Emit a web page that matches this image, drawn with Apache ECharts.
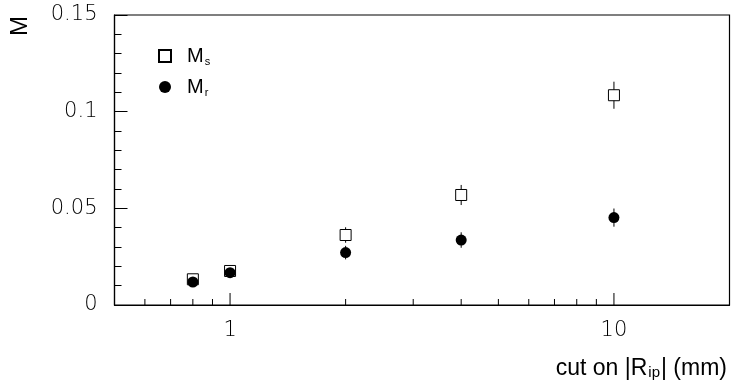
<!DOCTYPE html>
<html>
<head>
<meta charset="utf-8">
<script src="https://cdn.jsdelivr.net/npm/echarts@6/dist/echarts.min.js"></script>
<style>
  html, body { margin: 0; padding: 0; background: #ffffff; }
  #chart { width: 731px; height: 389px; }
</style>
</head>
<body>
<div id="chart"></div>
<script>
// Cut values on |R_ip| in mm
const cuts = [0.8, 1, 2, 4, 10];
// M_s (open squares) with symmetric errors
const msValues = [0.0133, 0.0176, 0.0362, 0.0569, 0.1085];
const msErrors = [0.0012, 0.0016, 0.0040, 0.0052, 0.0070];
// M_r (filled circles) with symmetric errors
const mrValues = [0.0119, 0.0167, 0.0271, 0.0336, 0.0452];
const mrErrors = [0.0010, 0.0014, 0.0035, 0.0040, 0.0047];
// Log-axis tick positions
const xMajorTicks = [1, 10];
const xMinorTicks = [0.6, 0.7, 0.8, 0.9, 2, 3, 4, 5, 6, 7, 8, 9];
const xLabels = ['1', '10'];
// Y axis range and step
const yMin = 0, yMax = 0.15, yStep = 0.05;

const tickFont = { fontFamily: 'DejaVu Sans', fontWeight: 200, fontSize: 21, color: '#000' };

const chart = echarts.init(document.getElementById('chart'), null, { renderer: 'canvas' });

function errorBars(values, errors) {
  return cuts.map((c, i) => [c, values[i], errors[i]]);
}

const errRender = (params, api) => {
  const x = api.value(0), y = api.value(1), e = api.value(2);
  const lo = api.coord([x, y - e]);
  const hi = api.coord([x, y + e]);
  return {
    type: 'line',
    shape: { x1: lo[0], y1: lo[1], x2: hi[0], y2: hi[1] },
    style: { stroke: '#000', lineWidth: 1 }
  };
};

const tickRender = (params, api) => {
  const x = api.value(0), major = api.value(1);
  const p = api.coord([x, yMin]);
  const len = major ? 12 : 6;
  return {
    type: 'line',
    shape: { x1: p[0], y1: p[1], x2: p[0], y2: p[1] - len },
    style: { stroke: '#000', lineWidth: 1 }
  };
};

chart.setOption({
  animation: false,
  backgroundColor: '#ffffff',
  grid: {
    left: 114.5, right: 1.5, top: 15, bottom: 84,
    show: true, borderColor: '#000', borderWidth: 1.2, backgroundColor: 'transparent'
  },
  xAxis: {
    type: 'log', logBase: 10, min: 0.5, max: 20,
    axisLine: { show: true, lineStyle: { color: '#000', width: 1.2 } },
    axisTick: { show: false },
    splitLine: { show: false },
    minorSplitLine: { show: false },
    axisLabel: Object.assign({
      margin: 15,
      showMinLabel: false, showMaxLabel: false,
      formatter: v => {
        const i = xMajorTicks.findIndex(t => Math.abs(t - v) < 1e-6 * t);
        return i >= 0 ? xLabels[i] : '';
      }
    }, tickFont)
  },
  yAxis: {
    type: 'value', min: yMin, max: yMax, interval: yStep,
    axisLine: { show: true, lineStyle: { color: '#000', width: 1.2 } },
    axisTick: { show: true, inside: true, length: 13, lineStyle: { color: '#000', width: 1 } },
    minorTick: { show: true, splitNumber: 5, length: 7, lineStyle: { color: '#000', width: 1 } },
    splitLine: { show: false },
    axisLabel: Object.assign({ margin: 17 }, tickFont)
  },
  legend: {
    orient: 'vertical', left: 153, top: 41,
    itemWidth: 12, itemHeight: 12, itemGap: 10,
    data: [{ name: 'Ms', icon: 'rect' }, { name: 'Mr', icon: 'circle' }],
    formatter: name => name === 'Ms' ? '{m|M}{s|s}' : '{m|M}{s|r}',
    textStyle: {
      rich: {
        m: { fontFamily: 'Liberation Sans', fontSize: 20, color: '#000', padding: [0, 0, 0, 11], lineHeight: 22 },
        s: { fontFamily: 'Liberation Sans', fontSize: 11, color: '#000', verticalAlign: 'bottom', lineHeight: 22, padding: [8, 0, 0, 1] }
      }
    }
  },
  graphic: [
    {
      type: 'text', x: 20, y: 26, rotation: Math.PI / 2,
      style: { text: 'M', fontFamily: 'Liberation Sans', fontSize: 24, fill: '#000', align: 'center', verticalAlign: 'middle' }
    },
    {
      type: 'text', right: 4, top: 354,
      style: {
        text: '{t|cut on |R}{b|ip}{t|| (mm)}',
        rich: {
          t: { fontFamily: 'Liberation Sans', fontSize: 23, fill: '#000', lineHeight: 26, verticalAlign: 'bottom' },
          b: { fontFamily: 'Liberation Sans', fontSize: 15, fill: '#000', lineHeight: 26, verticalAlign: 'bottom', padding: [11, 1, 0, 1] }
        }
      }
    }
  ],
  series: [
    {
      name: 'ticks', type: 'custom', silent: true, clip: false, z: 1,
      renderItem: tickRender,
      data: xMajorTicks.map(v => [v, 1]).concat(xMinorTicks.map(v => [v, 0]))
    },
    {
      name: 'Ms errors', type: 'custom', silent: true, z: 2,
      renderItem: errRender, data: errorBars(msValues, msErrors)
    },
    {
      name: 'Mr errors', type: 'custom', silent: true, z: 2,
      renderItem: errRender, data: errorBars(mrValues, mrErrors)
    },
    {
      name: 'Ms', type: 'scatter', symbol: 'rect', symbolSize: 11, z: 3,
      itemStyle: { color: '#fff', borderColor: '#000', borderWidth: 1, opacity: 1 },
      data: cuts.map((c, i) => [c, msValues[i]])
    },
    {
      name: 'Mr', type: 'scatter', symbol: 'circle', symbolSize: 11, z: 4,
      itemStyle: { color: '#000', opacity: 1 },
      data: cuts.map((c, i) => [c, mrValues[i]])
    }
  ]
});
</script>
</body>
</html>
